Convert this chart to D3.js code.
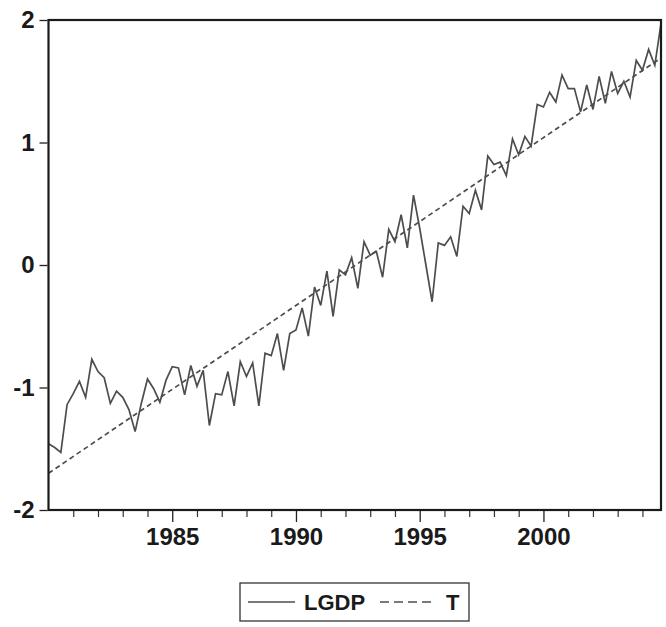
<!DOCTYPE html>
<html>
<head>
<meta charset="utf-8">
<script src="https://cdn.jsdelivr.net/npm/d3@7"></script>
<style>
  html, body { margin: 0; padding: 0; background: #fff; }
  svg { display: block; font-family: "Liberation Sans", Arial, sans-serif; }
</style>
</head>
<body>
<svg id="chart" width="666" height="627"></svg>
<script>
// ---- data (quarterly, 1980Q1 .. 2004Q4) ----
const startYear = 1980;
const lgdp = [
  -1.46, -1.49, -1.53, -1.14, -1.05, -0.95, -1.08, -0.77, -0.87, -0.92,
  -1.13, -1.03, -1.08, -1.18, -1.36, -1.13, -0.93, -1.01, -1.12, -0.94,
  -0.83, -0.84, -1.06, -0.82, -0.99, -0.86, -1.31, -1.05, -1.06, -0.87,
  -1.15, -0.79, -0.91, -0.80, -1.15, -0.72, -0.74, -0.56, -0.86, -0.56,
  -0.53, -0.35, -0.58, -0.18, -0.33, -0.05, -0.42, -0.04, -0.08, 0.06,
  -0.19, 0.19, 0.08, 0.11, -0.10, 0.29, 0.19, 0.41, 0.14, 0.57,
  0.30, 0.00, -0.30, 0.18, 0.16, 0.23, 0.07, 0.48, 0.42, 0.61,
  0.45, 0.89, 0.82, 0.84, 0.73, 1.03, 0.90, 1.05, 0.97, 1.31,
  1.29, 1.41, 1.33, 1.55, 1.44, 1.44, 1.25, 1.47, 1.27, 1.54,
  1.32, 1.58, 1.40, 1.50, 1.37, 1.67, 1.59, 1.76, 1.63, 1.97
];
const dates = lgdp.map((_, i) => startYear + i / 4);
// Linear trend T: values at first and last observation
const trendDates = [1980, 2004.75];
const trendValues = [-1.70, 1.69];
const yTicks = [-2, -1, 0, 1, 2];
const xMajorTicks = [1985, 1990, 1995, 2000];
const xMinorTicks = [1981, 1982, 1983, 1984, 1986, 1987, 1988, 1989, 1991, 1992, 1993, 1994,
                     1996, 1997, 1998, 1999, 2001, 2002, 2003, 2004];
const seriesNames = ["LGDP", "T"];

// ---- layout ----
const L = 48.5, R = 661, T = 20, B = 510;
const svg = d3.select("#chart");
const x = d3.scaleLinear().domain([1980, 2004.75]).range([L, R]);
const y = d3.scaleLinear().domain([-2, 2]).range([B, T]);
const lineColor = "#4d4d4d";
const font = "Liberation Sans, Arial, sans-serif";

// y axis
const yAxis = svg.append("g").attr("transform", `translate(${L - 1},0)`)
  .call(d3.axisLeft(y).tickValues(yTicks).tickSize(8).tickPadding(5)
    .tickFormat(d => d < 0 ? "-" + Math.abs(d) : String(d)));
yAxis.select(".domain").remove();
yAxis.selectAll("text").attr("font-size", 24).attr("font-weight", "bold").attr("fill", "#1a1a1a")
  .attr("font-family", font);
yAxis.selectAll("line").attr("stroke", "#222").attr("stroke-width", 1.3);

// x axis major
const xAxis = svg.append("g").attr("transform", `translate(0,${B})`)
  .call(d3.axisBottom(x).tickValues(xMajorTicks).tickSize(12).tickPadding(6).tickFormat(d3.format("d")));
xAxis.select(".domain").remove();
xAxis.selectAll("text").attr("font-size", 24).attr("font-weight", "bold").attr("fill", "#1a1a1a")
  .attr("font-family", font);
xAxis.selectAll("line").attr("stroke", "#222").attr("stroke-width", 1.3);

// x axis minor
const xMinor = svg.append("g").attr("transform", `translate(0,${B})`)
  .call(d3.axisBottom(x).tickValues(xMinorTicks).tickSize(7).tickFormat(""));
xMinor.select(".domain").remove();
xMinor.selectAll("line").attr("stroke", "#333").attr("stroke-width", 1.2);

// trend (dashed)
const trendPts = trendDates.map((d, i) => [d, trendValues[i]]);
svg.append("path")
  .datum(trendPts)
  .attr("d", d3.line().x(d => x(d[0])).y(d => y(d[1])))
  .attr("fill", "none").attr("stroke", lineColor).attr("stroke-width", 1.7)
  .attr("stroke-dasharray", "5,3.5");

// LGDP
svg.append("path")
  .datum(lgdp.map((v, i) => [dates[i], v]))
  .attr("d", d3.line().x(d => x(d[0])).y(d => y(d[1])))
  .attr("fill", "none").attr("stroke", lineColor).attr("stroke-width", 1.7)
  .attr("stroke-linejoin", "miter");

// frame
svg.append("rect").attr("x", L).attr("y", T).attr("width", R - L).attr("height", B - T)
  .attr("fill", "none").attr("stroke", "#1a1a1a").attr("stroke-width", 2.2);

// legend
const lg = svg.append("g");
lg.append("rect").attr("x", 240).attr("y", 583).attr("width", 229).attr("height", 38)
  .attr("fill", "#fff").attr("stroke", "#333").attr("stroke-width", 1.3);
lg.append("line").attr("x1", 248).attr("x2", 295).attr("y1", 602).attr("y2", 602)
  .attr("stroke", lineColor).attr("stroke-width", 1.7);
lg.append("text").attr("x", 304).attr("y", 610).attr("font-size", 22).attr("font-weight", "bold")
  .attr("fill", "#1a1a1a").text(seriesNames[0]);
lg.append("line").attr("x1", 380).attr("x2", 435).attr("y1", 602).attr("y2", 602)
  .attr("stroke", lineColor).attr("stroke-width", 1.7).attr("stroke-dasharray", "9,5");
lg.append("text").attr("x", 446).attr("y", 610).attr("font-size", 22).attr("font-weight", "bold")
  .attr("fill", "#1a1a1a").text(seriesNames[1]);
</script>
</body>
</html>
